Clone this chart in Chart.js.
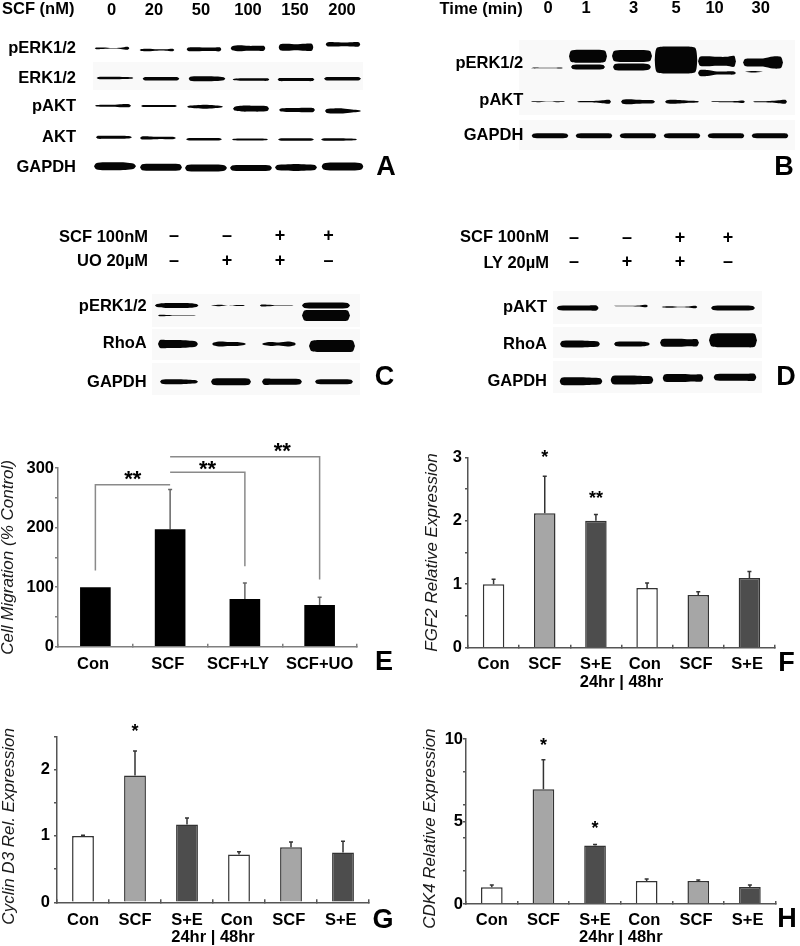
<!DOCTYPE html>
<html><head><meta charset="utf-8">
<script src="https://cdn.jsdelivr.net/npm/chart.js@4"></script>
<style>
html,body{margin:0;padding:0;background:#fff;width:800px;height:946px;overflow:hidden}
#page{position:relative;width:800px;height:946px;overflow:hidden}
#page canvas{position:absolute}
.t{position:absolute;white-space:pre;color:#000;line-height:1}
.r{position:absolute}
</style></head><body><div id="page"></div>
<script>
// ---------- Blot lanes ----------
const A_lanes = ['0','20','50','100','150','200'];
const B_lanes = ['0','1','3','5','10','30'];
const C_scf = ['–','–','+','+'];
const C_uo  = ['–','+','+','–'];
const D_scf = ['–','–','+','+'];
const D_ly  = ['–','+','+','–'];
// ---------- Blot band densities (profile across each lane) ----------
const A_pERK = [[1.8,1.5,.6,1.2,3],[2,2.5,1.5,1.5,2.5],[3.5,4,3.5,3.5,4],[4,6,5,5,5],[6,7,6,7,7],[4,4.5,4,4.5,4.5]];
const A_ERK  = [[2,2.5,2.5,2,1.5],[3,3.5,3.5,3.5,3],[4,5,5,4.5,3],[1.5,2.5,2.5,2.5,2.5],[3,3,3,3,3],[3,3.5,3.5,3.5,3]];
const A_pAKT = [[1.5,2,2,3,3],[2,2,2,2,2],[2,3,4,3,1.5],[4,6,6,6,5],[3,4,4,4.5,4],[4,5,5,3,1.5]];
const A_AKT  = [[3,3,3,3,2],[3,3,2.5,2.5,2],[2,2.5,2.5,2.5,2],[1.5,2,2,2,1.5],[2,2.5,2.5,2.5,2],[2,2.5,2.5,2,1.5]];
const A_GAPDH= [[6,8,8,7.5,5],[6,7,7,7,6],[6,7,7,7,5],[5,6,6,6,5],[5,6,7,6,5],[6,8,8,8,6]];
const B_pERK_upper = [null,[11,13,13,13,11],[10,12,12,12,10],[24,27,27,27,24],[9,10,9,9,11],[7,8,8,12,11]];
const B_pERK_lower = [[.7,.7,.5,.5,1],[4,5,5,5,4],[6,7,7,7,5],null,[6,6,3,3,3],[0,1.5,0,0,0]];
const B_pAKT = [[.7,1,.3,1,.7],[1,1.2,1.5,3,4],[4,5,4,3.5,3],[3,4,3,2,1.5],[.8,1,1,1.5,2.5],[1,1,1.5,3,4]];
const B_GAPDH= [[4,5,5,5,4],[4,5,5,5,4.5],[4,5,5,5,4.5],[4,5,5,5,4.5],[4,5,5,5,4.5],[4,5,5,5,4.5]];
const C_pERK_upper = [[3,5,5,5,3],[.6,1.5,.2,.8,1],[2,1.5,.5,.7,.3],[5,6,6,6,5]];
const C_pERK_lower = [[1.5,1,.5,.3,.3],null,null,[10,11,11,11,10]];
const C_RhoA = [[8,8,8,7,5],[3,5,4,4,2],[2,4,3,5,3],[10,12,12,12,11]];
const C_GAPDH= [[4,5,5,4,3],[6,7,7,7,6],[6,6,6,6,5],[4,5,5,5,4]];
const D_pAKT = [[4,5,5,5,5],[.3,.3,.3,1,2.5],[1,1.5,.3,1,2.5],[4,5,5,5,4]];
const D_RhoA = [[6,7,7,6,5],[4,5,5,5,3],[7,8,8,7,7],[12,14,14,14,13]];
const D_GAPDH= [[7,8,8,7,6],[8,9,9,8,7],[7,8,8,7,7],[6,7,7,7,7]];
// ---------- Bar panels ----------
const E_cats = ['Con','SCF','SCF+LY','SCF+UO'];
const E_tickText = ['Con ','SCF ','SCF+LY   ','SCF+UO'];
const E_values = [100,197,80,70];
const E_errTop = [100,264,107,83];
const E_sigAt = [.5,1.5,2.5];
const E_sigY = [285,302,332];
const E_sigText = ['**','**','**'];
const E_brackets = [
  [['Con',128],['Con',272],['SCF',272]],
  [['SCF',293],['SCF+LY',293],['SCF+LY',135]],
  [['SCF',319],['SCF+UO',319],['SCF+UO',113]]
];
const time_cats = ['Con','SCF','S+E','Con ','SCF ','S+E '];
const F_values = [1.0,2.12,2.0,.94,.83,1.1];
const F_errTop = [1.08,2.7,2.1,1.02,.88,1.2];
const F_sigAt = [1,2]; const F_sigY = [3.02,2.38]; const F_sigText = ['*','**'];
const G_values = [1.0,1.91,1.17,.72,.83,.75];
const G_errTop = [1.01,2.28,1.27,.76,.91,.92];
const G_sigAt = [1]; const G_sigY = [2.6]; const G_sigText = ['*'];
const H_values = [1.02,6.95,3.55,1.4,1.4,1.03];
const H_errTop = [1.15,8.75,3.6,1.52,1.45,1.15];
const H_sigAt = [1,2]; const H_sigY = [9.7,4.7]; const H_sigText = ['*','*'];

// ---------- helpers ----------
const FF='"Liberation Sans", Arial, sans-serif';
const page=document.getElementById('page');
function text(s,x,y,size,align){
  const d=document.createElement('div');d.className='t';d.textContent=s;
  d.style.left=x+'px';d.style.top=y+'px';d.style.font='bold '+size+'px '+FF;d.style.lineHeight='1';
  d.style.transform='translate('+(align==='right'?'-100%':align==='left'?'0':'-50%')+',-50%)';
  d.style.zIndex=3;page.appendChild(d);
}
function rect(x0,y0,x1,y1,c){
  const d=document.createElement('div');d.className='r';
  d.style.cssText+='left:'+x0+'px;top:'+y0+'px;width:'+(x1-x0)+'px;height:'+(y1-y0)+'px;background:'+(c||'#f9f9f9');
  page.appendChild(d);
}
function mkCanvas(x,y,w,h){
  const c=document.createElement('canvas');c.width=w;c.height=h;
  c.style.left=x+'px';c.style.top=y+'px';c.style.width=w+'px';c.style.height=h+'px';
  c.style.zIndex=2;page.appendChild(c);return c;
}
const blurPlugin={id:'blur',
  afterLayout(ch){ // let the plot area reach the foot of the canvas
    const Y=ch.scales.y,A=ch.chartArea,H=ch.height;
    A.bottom=H;A.height=H-A.top;Y.bottom=H;Y.height=H-Y.top;Y.configure();
  },
  beforeDatasetsDraw(ch){ch.ctx.save();ch.ctx.filter='blur(0.55px)';},
  afterDatasetsDraw(ch){ch.ctx.restore();}};
const SHAPE=[-1,-.9,-.5,0,.5,.9,1];
function blot(cfg){
  const {x,y,w,h,areaLeft,laneW,areaTop,rows,lanes,laneFont,labelPad,rowPad}=cfg;
  const n=lanes.length, datasets=[];
  rows.forEach(row=>{
    row.values.forEach((t,i)=>{
      if(!t||t.every(v=>!v))return;
      const hw=(Array.isArray(row.hw)?row.hw[i]:row.hw)/laneW;
      const cx=i+.5+((row.dx&&row.dx[i])||0)/laneW;
      const cy=row.y+((row.dy&&row.dy[i])||0);
      const prof=[0,...t,0];
      const up=SHAPE.map((s,k)=>({x:cx+s*hw,y:cy-prof[k]/2}));
      const lo=SHAPE.map((s,k)=>({x:cx+s*hw,y:cy+prof[k]/2}));
      const base={borderWidth:0,borderColor:'transparent',pointRadius:0,tension:.25,backgroundColor:'#050505'};
      datasets.push({...base,label:row.name,data:up,fill:'+1'});
      datasets.push({...base,label:row.name,data:lo,fill:false});
    });
  });
  const tickRows=rows.filter(r=>r.label);
  new Chart(mkCanvas(x,y,w,h),{
    type:'line',data:{datasets},plugins:[blurPlugin],
    options:{responsive:false,animation:false,devicePixelRatio:1,
      layout:{autoPadding:false,padding:{left:0,top:0,bottom:0,right:w-(areaLeft-x)-n*laneW}},
      plugins:{legend:{display:false},tooltip:{enabled:false}},
      scales:{
        x:{type:'linear',position:'top',min:0,max:n,bounds:'data',
          afterFit:s=>{s.height=areaTop-y;},
          afterBuildTicks:s=>{s.ticks=lanes.map((l,i)=>({value:i+.5+((cfg.labelDx&&cfg.labelDx[i])||0)/laneW}));},
          grid:{display:false,drawTicks:false},border:{display:false},
          ticks:{autoSkip:false,maxRotation:0,padding:labelPad,color:'#000',font:laneFont,
            callback:(v,i)=>lanes[i]}},
        y:{type:'linear',reverse:true,min:areaTop,max:y+h,bounds:'data',
          afterFit:s=>{s.width=areaLeft-x;},
          afterBuildTicks:s=>{s.ticks=tickRows.map(r=>({value:r.labelY}));},
          grid:{display:false,drawTicks:false},border:{display:false},
          ticks:{autoSkip:false,padding:rowPad,color:'#000',font:{family:FF,weight:'bold',size:16.5},
            callback:(v,i)=>tickRows[i].label}}
      }}
  });
}
function barPanel(c){
  const ax=c.axisColor, errPlugin={id:'err',
    beforeDatasetsDraw(ch){
      const X=ch.scales.x,Y=ch.scales.y,ct=ch.ctx;ct.save();ct.strokeStyle=c.errColor;ct.lineWidth=1.5;
      c.errTop.forEach((top,i)=>{ if(top<=c.values[i])return;
        const px=X.getPixelForValue(i),a=Y.getPixelForValue(c.values[i]),b=Y.getPixelForValue(top);
        ct.beginPath();ct.moveTo(px,a);ct.lineTo(px,b);ct.moveTo(px-2,b);ct.lineTo(px+2,b);ct.stroke();});
      ct.restore();},
    afterDatasetsDraw(ch){
      const X=ch.scales.x,Y=ch.scales.y,ct=ch.ctx;ct.save();ct.fillStyle='#000';ct.textAlign='center';ct.textBaseline='alphabetic';
      ct.font='bold '+c.starSize+'px '+FF;
      c.sigText.forEach((s,i)=>{ct.fillText(s,X.getPixelForValue(c.sigAt[i]),Y.getPixelForValue(c.sigY[i])+c.starSize*.4);});
      ct.restore();}};
  const datasets=[{type:'bar',label:c.name,data:c.values,backgroundColor:c.colors,borderColor:c.barBorder,borderWidth:c.barBW,
    barPercentage:c.barPct,categoryPercentage:1,order:2}];
  (c.brackets||[]).forEach(b=>datasets.push({type:'line',label:'significance',data:b.map(p=>({x:p[0],y:p[1]})),
    borderColor:'#8a8a8a',borderWidth:1.5,pointRadius:0,tension:0,clip:false,fill:false,order:1}));
  const tickText=c.tickText||c.cats;
  new Chart(mkCanvas(c.x,c.top,c.w,c.bottom-c.top),{
    data:{labels:c.cats,datasets},plugins:[errPlugin],
    options:{responsive:false,animation:false,devicePixelRatio:1,
      layout:{autoPadding:false,padding:{left:0,top:c.areaTop-c.top,bottom:0,right:c.w-(c.right-c.x)}},
      plugins:{legend:{display:false},tooltip:{enabled:false}},
      scales:{
        x:{type:'category',offset:true,
          afterFit:s=>{s.height=c.bottom-c.areaBottom;},
          border:{color:ax,width:1.5},
          grid:{offset:true,drawOnChartArea:false,drawTicks:true,tickLength:-3,tickColor:ax,lineWidth:1.5},
          title:c.xTitle?{display:true,text:c.xTitle,color:'#000',font:{family:FF,weight:'bold',size:16.5},padding:{top:0,bottom:c.xTitlePad}}:{display:false},
          ticks:{autoSkip:false,maxRotation:0,padding:c.xPad,color:'#000',font:{family:FF,weight:'bold',size:16.5},
            callback:(v,i)=>tickText[i]}},
        y:{type:'linear',min:0,max:c.ymax,
          afterFit:s=>{s.width=c.axisX-c.x;},
          afterBuildTicks:s=>{s.ticks=c.yTicks.map(v=>({value:v}));},
          border:{color:ax,width:1.5},
          grid:{drawOnChartArea:false,drawTicks:true,tickLength:3,tickColor:ax,lineWidth:1.5},
          title:{display:true,text:c.yTitle,color:'#1a1a1a',font:{family:FF,style:'italic',size:17},padding:{top:0,bottom:0}},
          ticks:{autoSkip:false,padding:c.yPad,color:'#000',font:{family:FF,weight:'bold',size:16.5},
            callback:v=>c.yLabeled.includes(v)?String(v):''}}
      }}
  });
}
// ---------- faint membrane backgrounds ----------
rect(93,62,363,90);
rect(519,40,795,82);rect(519,82,795,115);rect(519,120,795,150);
rect(152,294,360,327);rect(152,329,360,360);rect(152,363,360,395);
rect(553,291,762,324);rect(553,327,762,358);rect(553,361,762,393);
// ---------- blots ----------
const laneFont16={family:FF,weight:'bold',size:16.5};
blot({x:0,y:0,w:380,h:190,areaLeft:90,laneW:46,areaTop:22,lanes:A_lanes,laneFont:laneFont16,labelPad:4,rowPad:14,
  labelDx:[-1.3,-5,-4,-3,-2,-1],
  rows:[
   {name:'pERK1/2',label:'pERK1/2',labelY:47,y:46.7,hw:17.5,values:A_pERK,dx:[-1,-2,-1,-3,-1,0],dy:[0,1.6,1,0,-1,-4]},
   {name:'ERK1/2',label:'ERK1/2',labelY:76.7,y:77.5,hw:18.5,values:A_ERK,dx:[2,2,2,0,-1,-.5],dy:[-.8,0,0,.8,.8,0]},
   {name:'pAKT',label:'pAKT',labelY:106,y:106,hw:18,values:A_pAKT,dy:[-1.3,-1,-.3,1.7,3,4]},
   {name:'AKT',label:'AKT',labelY:136.7,y:138,hw:18,values:A_AKT,dx:[1,-1,-1,-1,-1,-4],dy:[-1.3,-.7,.7,1,1,1]},
   {name:'GAPDH',label:'GAPDH',labelY:166.7,y:167,hw:21,values:A_GAPDH,dx:[2,2,1,0,-1,-.5],dy:[-1,0,.7,.7,.3,-.7]}
  ]});
blot({x:400,y:0,w:400,h:160,areaLeft:528,laneW:44,areaTop:40,lanes:B_lanes,laneFont:laneFont16,labelPad:22,rowPad:4.7,
  labelDx:[-2,-8,-4.3,-6,-11.4,-9.3],
  rows:[
   {name:'pERK1/2',label:'pERK1/2',labelY:63,y:56,hw:[19,19,20,21.5,19,20],values:B_pERK_upper,dx:[-3,-6,-6,-6,-9,-7],dy:[0,.3,0,4,5.3,6.5]},
   {name:'pERK1/2 lower',y:67,hw:[16,17,19,19,19,20],values:B_pERK_lower,dx:[-3,-6,-6,-6,-9,-7],dy:[1,0,0,0,6,4.7]},
   {name:'pAKT',label:'pAKT',labelY:100,y:101.7,hw:17,values:B_pAKT,dx:[-2,0,0,0,2,0]},
   {name:'GAPDH',label:'GAPDH',labelY:135.7,y:135.7,hw:18.5,values:B_GAPDH}
  ]});
const signFont={family:FF,weight:'bold',size:18,lineHeight:1.36};
const zip=(a,b)=>a.map((v,i)=>[v,b[i]]);
blot({x:0,y:220,w:380,h:185,areaLeft:152.5,laneW:51,areaTop:294,lanes:zip(C_scf,C_uo),laneFont:signFont,labelPad:21,rowPad:5.8,
  labelDx:[-4,-2,0,-2.5],
  rows:[
   {name:'pERK1/2',label:'pERK1/2',labelY:306.7,y:305.5,hw:[22,17,17,24],values:C_pERK_upper,dx:[-1.3,-1,-3.3,-5]},
   {name:'pERK1/2 lower',y:315.5,hw:[19,17,17,24],values:C_pERK_lower,dx:[-1,0,0,-5]},
   {name:'RhoA',label:'RhoA',labelY:343,y:344,hw:[20,17,17,23],values:C_RhoA,dx:[0,0,-1,1],dy:[0,0,0,2]},
   {name:'GAPDH',label:'GAPDH',labelY:382,y:381.7,hw:[19,20,20,19],values:C_GAPDH,dx:[1,2,2,3]}
  ]});
blot({x:400,y:220,w:400,h:185,areaLeft:555.5,laneW:51,areaTop:291,lanes:zip(D_scf,D_ly),laneFont:signFont,labelPad:16.5,rowPad:8.5,
  labelDx:[-7,-5,-3,-6],
  rows:[
   {name:'pAKT',label:'pAKT',labelY:307.7,y:308,hw:[21,17,18,22],values:D_pAKT,dx:[-3.3,-1,-3.5,-1],dy:[0,-2,-1,0]},
   {name:'RhoA',label:'RhoA',labelY:344,y:344,hw:[20,18,19.5,24],values:D_RhoA,dx:[-1,0,-3.5,-1],dy:[0,0,-1.3,-3.7]},
   {name:'GAPDH',label:'GAPDH',labelY:381,y:380,hw:[21.5,21.5,20.5,21.5],values:D_GAPDH,dx:[0,0,0,1],dy:[1.3,0,-2,-2.7]}
  ]});
// ---------- bar panels ----------
const WHITE='#ffffff',GREY='#a6a6a6',DARK='#4d4d4d';
const triple=[WHITE,GREY,DARK,WHITE,GREY,DARK];
barPanel({name:'Cell Migration',x:-2,w:382,top:435,bottom:690,axisX:58,right:357,areaTop:468,areaBottom:646.7,ymax:300,
  cats:E_cats,tickText:E_tickText,values:E_values,errTop:E_errTop,colors:'#000',barBorder:'#000',barBW:0,barPct:.41,
  axisColor:'#7f7f7f',errColor:'#666',starSize:22,sigAt:E_sigAt,sigY:E_sigY,sigText:E_sigText,brackets:E_brackets,
  yTicks:[0,50,100,150,200,250,300],yLabeled:[0,100,200,300],yTitle:'Cell Migration (% Control)',xPad:11,yPad:1});
barPanel({name:'FGF2',x:422,w:378,top:440,bottom:695,axisX:468,right:775,areaTop:457.3,areaBottom:647.7,ymax:3,
  cats:time_cats,values:F_values,errTop:F_errTop,colors:triple,barBorder:'#333',barBW:1.5,barPct:.42,
  axisColor:'#555',errColor:'#333',starSize:18,sigAt:F_sigAt,sigY:F_sigY,sigText:F_sigText,
  yTicks:[0,.5,1,1.5,2,2.5,3],yLabeled:[0,1,2,3],yTitle:'FGF2 Relative Expression',xTitle:'24hr | 48hr',xTitlePad:2.7,xPad:9.5,yPad:3});
barPanel({name:'Cyclin D3',x:-1,w:381,top:722,bottom:948,axisX:57,right:369,areaTop:736.3,areaBottom:902.3,ymax:2.5,
  cats:time_cats,values:G_values,errTop:G_errTop,colors:triple,barBorder:'#333',barBW:1.5,barPct:.42,
  axisColor:'#555',errColor:'#333',starSize:18,sigAt:G_sigAt,sigY:G_sigY,sigText:G_sigText,
  yTicks:[0,.5,1,1.5,2,2.5],yLabeled:[0,1,2],yTitle:'Cyclin D3 Rel. Expression   ',xTitle:'24hr | 48hr',xTitlePad:0.5,xPad:11,yPad:4});
barPanel({name:'CDK4',x:420,w:380,top:722,bottom:948,axisX:466,right:775.7,areaTop:739,areaBottom:904,ymax:10,
  cats:time_cats,values:H_values,errTop:H_errTop,colors:triple,barBorder:'#333',barBW:1.5,barPct:.42,
  axisColor:'#555',errColor:'#333',starSize:18,sigAt:H_sigAt,sigY:H_sigY,sigText:H_sigText,
  yTicks:[0,2,4,5,6,8,10],yLabeled:[0,5,10],yTitle:'CDK4 Relative Expression   ',xTitle:'24hr | 48hr',xTitlePad:0.5,xPad:9.5,yPad:0});
// ---------- panel titles ----------
text('SCF (nM)',2,8,16.5,'left');
text('Time (min)',522.7,8,16.5,'right');
text('SCF 100nM',148,235.7,16.5,'right');
text('UO 20µM',148,260,16.5,'right');
text('SCF 100nM',549,236,16.5,'right');
text('LY 20µM',549,261.7,16.5,'right');
[['A',386,166],['B',784,166],['C',384.5,375.5],['D',786,375.5],['E',384,661],['F',786.5,661.5],['G',383,918.5],['H',787,918]]
 .forEach(l=>text(l[0],l[1],l[2],27,'center'));
</script></body></html>
